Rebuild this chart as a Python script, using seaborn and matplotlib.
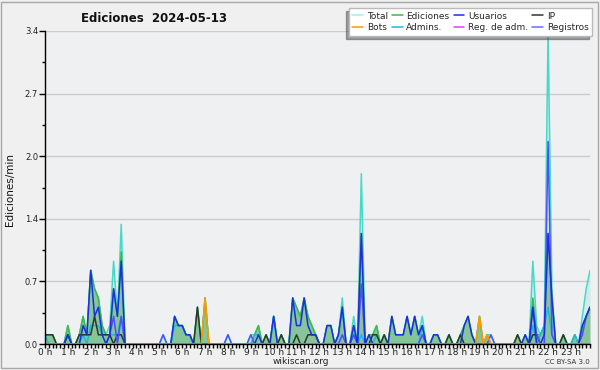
import numpy as np
import pandas as pd
import matplotlib
matplotlib.use("Agg")
import matplotlib.pyplot as plt
import seaborn as sns
from matplotlib.lines import Line2D
from matplotlib.patches import Rectangle

# ---------------- data (edits per minute, 10-minute slots, 6 per hour) ----------------
hour_labels = [f"{h} h" for h in range(24)]
slots_per_hour = 6

total = [
    .1, .1, .1, 0, 0, 0,      .2, 0, 0, .1, .3, .1,     .8, .6, .5, .2, .1, .2,
    .9, .3, 1.3, 0, 0, 0,     0, 0, 0, 0, 0, 0,         0, .1, 0, 0, .3, .2,
    .2, .1, .1, 0, .4, 0,     .5, 0, 0, 0, 0, 0,        .1, 0, 0, 0, 0, 0,
    .1, .1, .2, 0, .1, 0,     .3, 0, .1, 0, 0, .5,      .4, .3, .5, .3, .2, .1,
    0, 0, .2, .2, 0, .1,      .5, 0, 0, .3, 0, 1.85,    0, .1, .1, .2, 0, .1,
    0, .3, .1, .1, .1, .3,    .1, .3, .1, .3, 0, 0,     .1, .1, 0, 0, .1, 0,
    0, .1, .2, .3, .1, 0,     .3, 0, .1, .1, 0, 0,      0, 0, 0, 0, .1, 0,
    .1, 0, .9, .2, .1, .2,    3.4, .6, 0, 0, .1, 0,     0, .1, 0, .3, .6, .8,
]
ediciones = [
    .1, .1, .1, 0, 0, 0,      .2, 0, 0, .1, .3, .1,     .8, .6, .5, .2, .1, .1,
    .6, .3, 1.0, 0, 0, 0,     0, 0, 0, 0, 0, 0,         0, 0, 0, 0, .3, .2,
    .2, .1, .1, 0, .4, 0,     .5, 0, 0, 0, 0, 0,        0, 0, 0, 0, 0, 0,
    0, .1, .2, 0, .1, 0,      .3, 0, .1, 0, 0, .5,      .4, .3, .5, .3, .2, .1,
    0, 0, .2, .2, 0, .1,      .4, 0, 0, .2, 0, 1.2,     0, .1, .1, .2, 0, .1,
    0, .3, .1, .1, .1, .3,    .1, .3, .1, .2, 0, 0,     .1, .1, 0, 0, .1, 0,
    0, .1, .2, .3, .1, 0,     .3, 0, .1, 0, 0, 0,       0, 0, 0, 0, .1, 0,
    .1, 0, .5, .1, .1, .2,    1.2, .5, 0, 0, .1, 0,     0, .1, 0, .2, .3, .4,
]
usuarios = [
    0, 0, 0, 0, 0, 0,         .1, 0, 0, 0, .2, .1,      .8, .3, .4, .1, 0, .1,
    .6, .3, .9, 0, 0, 0,      0, 0, 0, 0, 0, 0,         0, 0, 0, 0, .3, .2,
    .2, .1, .1, 0, 0, 0,      0, 0, 0, 0, 0, 0,         0, 0, 0, 0, 0, 0,
    0, 0, .1, 0, 0, 0,        .3, 0, 0, 0, 0, .5,       .2, .2, .5, .2, .1, .1,
    0, 0, .2, .2, 0, .1,      .4, 0, 0, .2, 0, 1.2,     0, .1, 0, 0, 0, 0,
    0, .3, .1, .1, .1, .3,    .1, .3, .1, .2, 0, 0,     .1, .1, 0, 0, 0, 0,
    0, 0, .2, .3, .1, 0,      0, 0, 0, 0, 0, 0,         0, 0, 0, 0, 0, 0,
    .1, 0, .4, 0, 0, .1,      1.2, .5, 0, 0, 0, 0,      0, 0, 0, .2, .3, .4,
]
ip = [
    .1, .1, .1, 0, 0, 0,      .1, 0, 0, .1, .1, .1,     .1, .3, .1, .1, .1, .1,
    0, .1, .1, 0, 0, 0,       0, 0, 0, 0, 0, 0,         0, 0, 0, 0, 0, 0,
    0, 0, 0, 0, .4, 0,        0, 0, 0, 0, 0, 0,         0, 0, 0, 0, 0, 0,
    0, 0, 0, 0, .1, 0,        0, 0, .1, 0, 0, 0,        .1, 0, 0, .1, .1, .1,
    0, 0, 0, 0, 0, 0,         0, 0, 0, 0, 0, 0,         0, 0, .1, .1, 0, .1,
    0, 0, 0, 0, 0, 0,         0, 0, 0, 0, 0, 0,         0, 0, 0, 0, .1, 0,
    0, .1, 0, 0, 0, 0,        0, 0, 0, 0, 0, 0,         0, 0, 0, 0, .1, 0,
    0, 0, .1, .1, 0, 0,       0, 0, 0, 0, .1, 0,        0, 0, 0, 0, 0, 0,
]
bots = [0] * 144
bots[42] = .5
bots[114] = .3
bots[116] = .1
admins = [
    .1, 0, 0, 0, 0, 0,        .1, 0, 0, 0, .1, 0,       .2, .2, .2, .1, .1, .1,
    .1, .1, .3, 0, 0, 0,      0, 0, 0, 0, 0, 0,         0, 0, 0, 0, .2, .2,
    .2, .1, .1, 0, 0, 0,      0, 0, 0, 0, 0, 0,         0, 0, 0, 0, 0, 0,
    0, .1, .1, 0, 0, 0,       .3, 0, 0, 0, 0, 0,        0, 0, 0, 0, 0, 0,
    0, 0, 0, 0, 0, .1,        .4, 0, 0, .1, 0, .1,      0, 0, 0, .1, 0, 0,
    0, 0, 0, 0, 0, 0,         0, 0, 0, .2, 0, 0,        0, 0, 0, 0, 0, 0,
    0, 0, 0, 0, 0, 0,         0, 0, 0, 0, 0, 0,         0, 0, 0, 0, 0, 0,
    0, 0, .2, 0, .1, .2,      .4, .1, 0, 0, 0, 0,       0, .1, 0, 0, 0, 0,
]
reg_adm = [0] * 144
registros = [
    0, 0, 0, 0, 0, 0,         0, 0, 0, 0, 0, 0,         0, 0, 0, 0, 0, .1,
    .3, 0, .3, 0, 0, 0,       0, 0, 0, 0, 0, 0,         0, .1, 0, 0, 0, 0,
    0, 0, 0, 0, 0, 0,         0, 0, 0, 0, 0, 0,         .1, 0, 0, 0, 0, 0,
    .1, 0, 0, 0, 0, 0,        0, 0, 0, 0, 0, 0,         0, 0, 0, 0, 0, 0,
    0, 0, 0, 0, 0, 0,         .1, 0, 0, .1, 0, .65,     0, 0, 0, 0, 0, 0,
    0, 0, 0, 0, 0, 0,         0, 0, 0, .1, 0, 0,        0, 0, 0, 0, 0, 0,
    0, 0, 0, 0, 0, 0,         0, 0, 0, .1, 0, 0,        0, 0, 0, 0, 0, 0,
    0, 0, .4, .1, 0, 0,       2.2, .1, 0, 0, 0, 0,      0, 0, 0, .1, .3, .4,
]

colors = {
    "Total": "#45d9c8", "Ediciones": "#3fb848", "Usuarios": "#1a2fe0", "IP": "#2b382b",
    "Bots": "#ff9a00", "Admins.": "#1cb8e0", "Reg. de adm.": "#e040e8", "Registros": "#4f4ff5",
}
legend_colors = dict(colors)
legend_colors["Total"] = "#a6ecec"
legend_colors["Registros"] = "#6b6bff"

hours = np.arange(len(total)) / slots_per_hour
df = pd.DataFrame({
    "hora": hours, "Total": total, "Ediciones": ediciones, "Usuarios": usuarios, "IP": ip,
    "Bots": bots, "Admins.": admins, "Reg. de adm.": reg_adm, "Registros": registros,
})

# ---------------- style ----------------
sns.set_style("ticks")
plt.rcParams["font.family"] = ["DejaVu Sans"]

W, H = 600, 370
fig = plt.figure(figsize=(W / 100, H / 100), dpi=100, facecolor="#f0f0f0")
ax = fig.add_axes([45 / W, 26 / H, 545 / W, 313 / H])
ax.set_facecolor("#eef0f2")

# fills
ax.fill_between(df["hora"], df["Total"], color="#45d9c8", alpha=0.18, lw=0, zorder=1)
ax.fill_between(df["hora"], df["Ediciones"], color="#4fa55a", alpha=0.55, lw=0, zorder=2)

draw_order = ["Total", "Ediciones", "Admins.", "IP", "Registros", "Usuarios", "Reg. de adm.", "Bots"]
for z, name in enumerate(draw_order):
    sns.lineplot(data=df, x="hora", y=name, color=colors[name], linewidth=1.1,
                 ax=ax, zorder=3 + z, legend=False)

# axes
ax.set_xlim(0, hours[-1])
ax.set_ylim(0, 3.4)
yt = np.linspace(0, 3.4, 6)
ax.set_yticks(yt)
ax.set_yticklabels([f"{v:.1f}" for v in yt], fontsize=6)
ax.set_yticks((yt[:-1] + yt[1:]) / 2, minor=True)
ax.set_xticks(np.arange(24))
ax.set_xticklabels(hour_labels, fontsize=6.5)
ax.set_xticks(np.arange(144) / slots_per_hour, minor=True)
ax.set_xlabel("")
ax.set_ylabel("")
ax.grid(axis="y", which="major", color="#cccccc", lw=1)
for s in ["top", "right"]:
    ax.spines[s].set_visible(False)
for s in ["left", "bottom"]:
    ax.spines[s].set_color("black")
    ax.spines[s].set_linewidth(1)
    ax.spines[s].set_zorder(20)
ax.tick_params(axis="x", which="major", length=3, width=1, direction="out", pad=0, colors="black")
ax.tick_params(axis="x", which="minor", length=3, width=1, direction="out", colors="black")
ax.tick_params(axis="y", which="major", length=4, width=1, direction="out", pad=1, colors="black")
ax.tick_params(axis="y", which="minor", length=2, width=1, direction="out", colors="black")
for lab in ax.get_xticklabels() + ax.get_yticklabels():
    lab.set_color("#222222")

# legend
order = ["Total", "Bots", "Ediciones", "Admins.", "Usuarios", "Reg. de adm.", "IP", "Registros"]
handles = [Line2D([], [], color=legend_colors[n], lw=1.1) for n in order]
leg = fig.legend(handles, order, ncol=4, loc="upper right",
                 bbox_to_anchor=(592 / W, 1 - 8 / H), fontsize=6.5, frameon=True,
                 fancybox=False, edgecolor="#bbbbbb", facecolor="white", framealpha=1,
                 shadow={"ox": -2, "oy": -2}, handlelength=1.2, handletextpad=0.4,
                 columnspacing=0.45, borderpad=0.4, labelspacing=0.3, borderaxespad=0)
leg.get_frame().set_linewidth(1)

# texts
fig.text(154 / W, 1 - 18 / H, "Ediciones  2024-05-13", ha="center", va="center",
         fontsize=8.5, fontweight="bold", color="#111111")
fig.text(10 / W, 1 - 190 / H, "Ediciones/min", rotation=90, ha="center", va="center",
         fontsize=7.5, color="#111111")
fig.text(301 / W, 1 - 362 / H, "wikiscan.org", ha="center", va="center", fontsize=6.5,
         color="#222222")
fig.text(590 / W, 1 - 362 / H, "CC BY-SA 3.0", ha="right", va="center", fontsize=5,
         color="#333333")

fig.patches.append(Rectangle((1 / W, 2 / H), 597 / W, 366 / H, transform=fig.transFigure,
                             fill=False, edgecolor="#a8a8a8", lw=1))

fig.savefig("out.png", dpi=100, facecolor=fig.get_facecolor())
